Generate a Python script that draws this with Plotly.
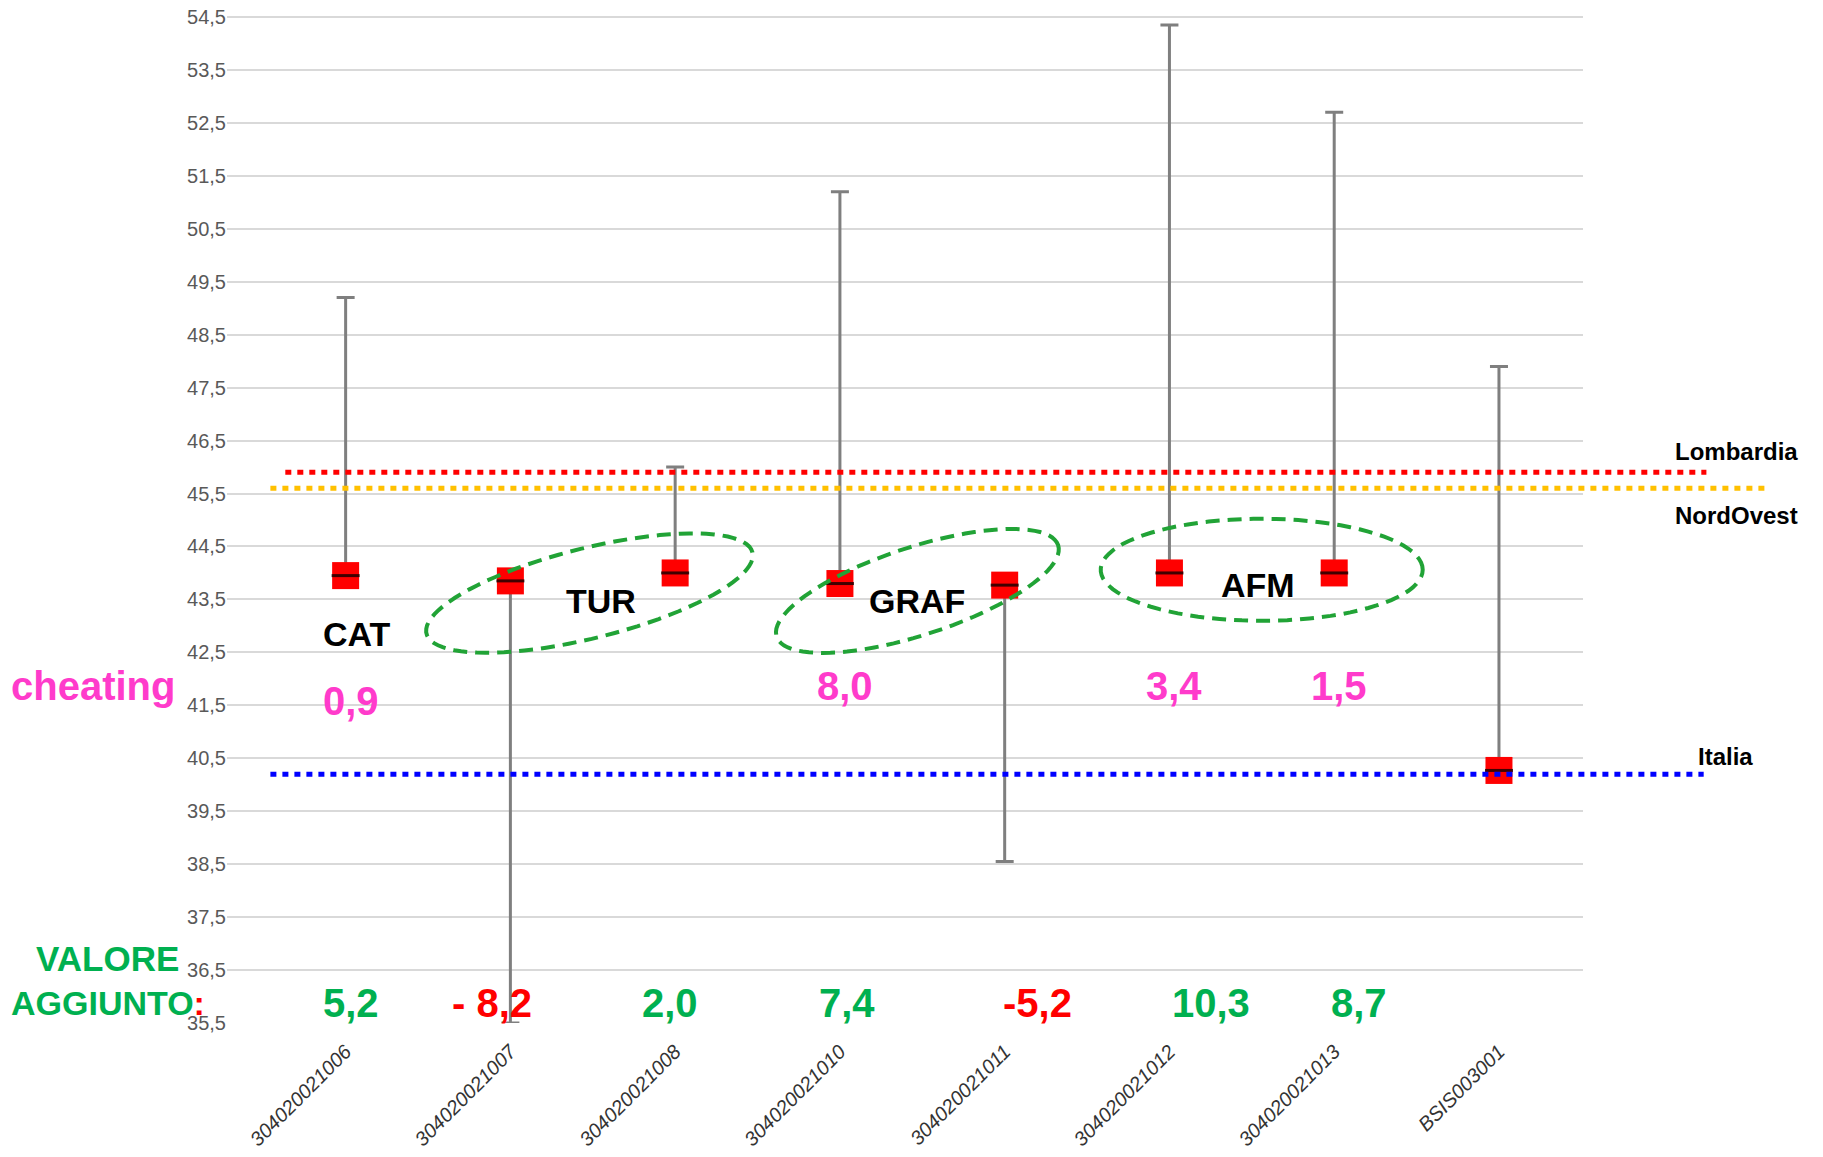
import numpy as np
import plotly.graph_objects as go

# Data
codes = ['304020021006', '304020021007', '304020021008', '304020021010',
         '304020021011', '304020021012', '304020021013', 'BSIS003001']
means = [43.95, 43.85, 44.0, 43.8, 43.77, 44.0, 44.0, 40.27]
highs = [49.2, 43.85, 46.0, 51.2, 43.77, 54.35, 52.7, 47.9]
lows = [43.95, 35.5, 44.0, 43.8, 38.55, 44.0, 44.0, 40.27]

ref_names = ['Lombardia', 'NordOvest', 'Italia']
ref_values = [45.9, 45.6, 40.2]
ref_colors = ['#FF0000', '#FFC000', '#0000FF']

cheating_labels = ['0,9', '8,0', '3,4', '1,5']
cheating_pos = [0, 3, 5, 6]

va_labels = ['5,2', '- 8,2', '2,0', '7,4', '-5,2', '10,3', '8,7']
va_colors = ['#00B050', '#FF0000', '#00B050', '#00B050', '#FF0000', '#00B050', '#00B050']

group_names = ['TUR', 'GRAF', 'AFM']
group_centers = [(1.55, 43.47), (3.47, 43.47), (5.54, 43.77)]
# ellipses: centre (x idx, y value), semi axes in px, tilt in degrees
ellipses = [(1.48, 43.62, 168, 45, 14), (3.47, 43.66, 148, 44, 18), (5.56, 44.06, 161, 51, 0)]

x = list(range(len(codes)))
err_plus = [h - m for h, m in zip(highs, means)]
err_minus = [m - l for m, l in zip(means, lows)]

FONT = 'Liberation Sans, Arial, sans-serif'

fig = go.Figure()
fig.add_trace(go.Scatter(
    x=x, y=means, mode='markers',
    marker=dict(symbol='square', size=27, color='#FF0000'),
    error_y=dict(type='data', symmetric=False, array=err_plus, arrayminus=err_minus,
                 color='#7F7F7F', thickness=3, width=9),
    showlegend=False, hoverinfo='skip'))
# small dark cap drawn over the markers
fig.add_trace(go.Scatter(
    x=x, y=means, mode='markers',
    marker=dict(symbol='line-ew', size=20, line=dict(color='rgba(30,0,0,0.85)', width=3)),
    showlegend=False, hoverinfo='skip'))

# reference lines (extend past the plot on the right)
ref_x = [(0.043, 1.091), (0.032, 1.136), (0.032, 1.089)]
for v, c, (x0, x1) in zip(ref_values, ref_colors, ref_x):
    fig.add_shape(type='line', xref='paper', yref='y', x0=x0, x1=x1, y0=v, y1=v,
                  line=dict(color=c, width=5, dash='6px,6px'))

# dashed ellipses around groups
t = np.linspace(0, 2 * np.pi, 90)
for cx, cy, a, b, ang in ellipses:
    phi = np.radians(ang)
    px = a * np.cos(t) * np.cos(phi) - b * np.sin(t) * np.sin(phi)
    py = a * np.cos(t) * np.sin(phi) + b * np.sin(t) * np.cos(phi)
    path = 'M ' + ' L '.join(f'{u:.1f},{w:.1f}' for u, w in zip(px, py)) + ' Z'
    fig.add_shape(type='path', path=path, xref='x', yref='y',
                  xsizemode='pixel', ysizemode='pixel', xanchor=cx, yanchor=cy,
                  line=dict(color='#21A336', width=4, dash='14px,8px'))

ann = []
ann.append(dict(x=0.07, y=42.85, text='CAT', font=dict(size=34, color='black', weight='bold')))
for name, (gx, gy) in zip(group_names, group_centers):
    ann.append(dict(x=gx, y=gy, text=name, font=dict(size=34, color='black', weight='bold')))
for lab, p in zip(cheating_labels, cheating_pos):
    yy = 41.58 if p == 0 else 41.87
    ann.append(dict(x=p + 0.03, y=yy, text=lab, font=dict(size=40, color='#FF3BCB', weight='bold')))
va_x = [0.03, 0.89, 1.97, 3.04, 4.2, 5.25, 6.15]
for lab, c, xx in zip(va_labels, va_colors, va_x):
    ann.append(dict(x=xx, y=35.88, text=lab, font=dict(size=40, color=c, weight='bold')))
for a in ann:
    a.update(xref='x', yref='y', showarrow=False, xanchor='center', yanchor='middle')

side = [
    dict(x=-0.099, y=41.87, text='cheating', font=dict(size=40, color='#FF3BCB', weight='bold')),
    dict(x=-0.088, y=36.72, text='VALORE', font=dict(size=35, color='#00B050', weight='bold')),
    dict(x=-0.088, y=35.88, text="AGGIUNTO<span style='color:#FF0000'>:</span>",
         font=dict(size=34, color='#00B050', weight='bold')),
    dict(x=1.113, y=46.3, text='Lombardia', font=dict(size=24, color='black', weight='bold')),
    dict(x=1.113, y=45.08, text='NordOvest', font=dict(size=24, color='black', weight='bold')),
    dict(x=1.105, y=40.54, text='Italia', font=dict(size=24, color='black', weight='bold')),
]
for a in side:
    a.update(xref='paper', yref='y', showarrow=False, xanchor='center', yanchor='middle')

fig.update_layout(
    width=1823, height=1157,
    margin=dict(l=219, r=248, t=0, b=142),
    paper_bgcolor='white', plot_bgcolor='white',
    separators=',.',
    font=dict(family=FONT),
    annotations=ann + side,
    showlegend=False,
)
fig.update_xaxes(
    range=[-0.72, 7.51], tickmode='array', tickvals=x, ticktext=codes,
    tickangle=-45, showgrid=False, zeroline=False, showline=False, ticks='',
    tickfont=dict(family=FONT, size=20, color='#333333', style='italic'),
    ticklabelstandoff=12, automargin=False,
)
fig.update_yaxes(
    range=[35.5, 54.67], tick0=35.5, dtick=1, tickformat='.1f',
    showgrid=True, gridcolor='#D9D9D9', gridwidth=2, zeroline=False, showline=False,
    ticks='', automargin=False, ticklabeloverflow='allow',
    tickfont=dict(family='Liberation Sans Narrow, Arial Narrow, ' + FONT, size=20, color='#595959'),
)

fig.write_html('out.html')
